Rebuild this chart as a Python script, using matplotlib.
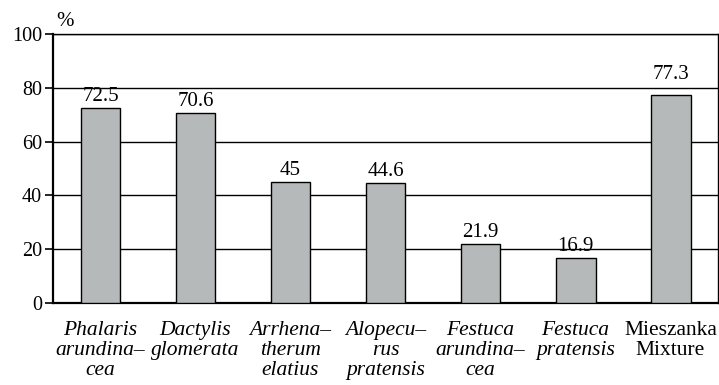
import matplotlib.pyplot as plt

# species shares, %
categories = ["Phalaris\narundina–\ncea", "Dactylis\nglomerata", "Arrhena–\ntherum\nelatius",
              "Alopecu–\nrus\npratensis", "Festuca\narundina–\ncea", "Festuca\npratensis",
              "Mieszanka\nMixture"]
values = [72.5, 70.6, 45, 44.6, 21.9, 16.9, 77.3]
value_labels = ["72.5", "70.6", "45", "44.6", "21.9", "16.9", "77.3"]
yticks = [0, 20, 40, 60, 80, 100]

plt.rcParams['font.family'] = ['Liberation Serif', 'DejaVu Serif']

fig = plt.figure(figsize=(7.19, 3.85), dpi=100)
ax = fig.add_axes([0.0737, 0.213, 0.925, 0.699])

x = list(range(len(values)))
ax.bar(x, values, width=0.42, color='#b6b9b9', edgecolor='black', linewidth=1.0, zorder=3)

for i, (v, lab) in enumerate(zip(values, value_labels)):
    y = v + 0.6
    if 76 < v < 82:
        y = 81.2  # keep clear of the 80 gridline
    ax.text(i, y, lab, ha='center', va='bottom', fontsize=15)

ax.set_xlim(-0.5, len(values) - 0.5)
ax.set_ylim(0, 100)
ax.set_yticks(yticks)
ax.set_yticklabels([str(t) for t in yticks], fontsize=14.5)
ax.yaxis.grid(True, color='black', linewidth=1.0, zorder=0)
ax.tick_params(axis='y', length=6, width=1.2, pad=2)

ax.set_xticks(x)
ax.set_xticklabels(categories, fontsize=15.5, linespacing=1.07)
ax.tick_params(axis='x', length=0, pad=13)
for lab in ax.get_xticklabels()[:-1]:
    lab.set_fontstyle('italic')

for s in ax.spines.values():
    s.set_linewidth(1.0)
ax.spines['left'].set_linewidth(1.6)
ax.spines['bottom'].set_linewidth(1.6)

ax.text(0.005, 1.01, "%", transform=ax.transAxes, fontsize=15, ha='left', va='bottom')

fig.savefig("out.png", dpi=100)
